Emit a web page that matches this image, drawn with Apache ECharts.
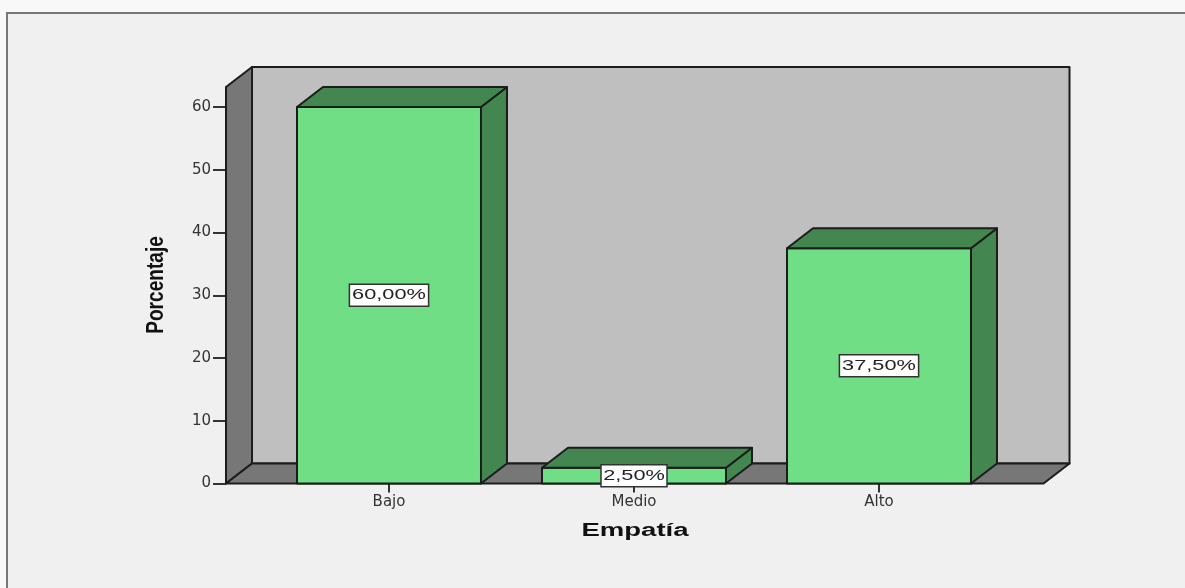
<!DOCTYPE html>
<html>
<head>
<meta charset="utf-8">
<title>Empatía</title>
<script src="https://cdn.jsdelivr.net/npm/echarts@6/dist/echarts.min.js"></script>
<style>
html, body { margin: 0; padding: 0; background: #f8f8f8; }
#chart { width: 1185px; height: 588px; }
</style>
</head>
<body>
<div id="chart"></div>
<script>
var categories = ['Bajo', 'Medio', 'Alto'];
var percentValues = [60, 2.5, 37.5];
var percentLabels = ['60,00%', '2,50%', '37,50%'];
var yTicks = { min: 0, max: 60, interval: 10 };

// 3d look of the old spss chart
var depthX = 26, depthY = 20;
var wallOverhang = 40.5; // the plot walls start left of the category bands
var wallOverhangRight = 42;
var outline = { stroke: '#1c1c1c', lineWidth: 2, lineJoin: 'round' };

function poly(points, fill) {
    return { type: 'polygon', shape: { points: points }, style: Object.assign({ fill: fill }, outline) };
}

function renderWalls(params, api) {
    var cs = params.coordSys;
    var left = cs.x - wallOverhang;
    var right = cs.x + cs.width + wallOverhangRight;
    var bottom = api.coord([0, yTicks.min])[1];
    var top = api.coord([0, yTicks.max])[1] - depthY;
    var dx = depthX, dy = depthY;
    return {
        type: 'group',
        children: [
            poly([[left + dx, top - dy], [right + dx, top - dy], [right + dx, bottom - dy], [left + dx, bottom - dy]], '#bfbfbf'),
            poly([[left, top], [left + dx, top - dy], [left + dx, bottom - dy], [left, bottom]], '#777777'),
            poly([[left, bottom], [left + dx, bottom - dy], [right + dx, bottom - dy], [right, bottom]], '#777777')
        ]
    };
}

function renderBar(params, api) {
    var c = api.coord([api.value(0), api.value(1)]);
    var base = api.coord([api.value(0), 0]);
    var half = api.size([1, 0])[0] * 0.751 / 2;
    var l = c[0] - half, r = c[0] + half, t = c[1], b = base[1];
    var text = percentLabels[params.dataIndex];
    var midY = (t + b) / 2;
    var boxW = text.length * 13.2;
    var boxH = 22;
    return {
        type: 'group',
        children: [
            poly([[l, t], [r, t], [r, b], [l, b]], '#70de84'),
            poly([[r, t], [r + depthX, t - depthY], [r + depthX, b - depthY], [r, b]], '#438650'),
            poly([[l, t], [l + depthX, t - depthY], [r + depthX, t - depthY], [r, t]], '#438650'),
            {
                type: 'rect',
                shape: { x: c[0] - boxW / 2, y: midY - boxH / 2, width: boxW, height: boxH },
                style: { fill: '#ffffff', stroke: '#333333', lineWidth: 1.5 }
            },
            {
                type: 'text',
                x: c[0],
                y: midY,
                scaleX: 1.45,
                style: {
                    text: text,
                    font: '15px "Liberation Sans"',
                    fill: '#222222',
                    textAlign: 'center',
                    textVerticalAlign: 'middle'
                }
            }
        ]
    };
}

var chart = echarts.init(document.getElementById('chart'));
chart.setOption({
    animation: false,
    backgroundColor: 'transparent',
    graphic: [
        {
            type: 'rect',
            z: -10,
            shape: { x: 7, y: 13, width: 1300, height: 700 },
            style: { fill: '#f0f0f0', stroke: '#777777', lineWidth: 2 }
        },
        {
            type: 'text',
            x: 157,
            y: 285,
            rotation: Math.PI / 2,
            scaleX: 0.83,
            style: {
                text: 'Porcentaje',
                font: 'bold 23px "Liberation Sans"',
                fill: '#111111',
                textAlign: 'center',
                textVerticalAlign: 'middle'
            }
        },
        {
            type: 'text',
            x: 635,
            y: 531,
            scaleX: 1.53,
            style: {
                text: 'Empatía',
                font: 'bold 18px "Liberation Sans"',
                fill: '#111111',
                textAlign: 'center',
                textVerticalAlign: 'middle'
            }
        }
    ],
    grid: { left: 266.5, width: 735, top: 107, height: 376.5, containLabel: false },
    xAxis: {
        type: 'category',
        data: categories,
        axisLine: { show: false },
        axisTick: { show: true, alignWithLabel: true, length: 9, lineStyle: { color: '#333333', width: 2 } },
        axisLabel: { color: '#333333', fontFamily: 'DejaVu Sans', fontSize: 15, margin: 11 },
        splitLine: { show: false }
    },
    yAxis: {
        type: 'value',
        min: yTicks.min,
        max: yTicks.max,
        interval: yTicks.interval,
        offset: wallOverhang,
        axisLine: { show: false },
        axisTick: { show: true, length: 13, lineStyle: { color: '#333333', width: 2 } },
        axisLabel: { color: '#333333', fontFamily: 'DejaVu Sans', fontSize: 15, margin: 15 },
        splitLine: { show: false }
    },
    series: [
        { type: 'custom', name: 'walls', z: 1, clip: false, silent: true, renderItem: renderWalls, data: [[0, 0]] },
        {
            type: 'custom',
            name: 'Porcentaje',
            z: 2,
            clip: false,
            renderItem: renderBar,
            encode: { x: 0, y: 1 },
            data: percentValues.map(function (v, i) { return [i, v]; })
        }
    ]
});
</script>
</body>
</html>
